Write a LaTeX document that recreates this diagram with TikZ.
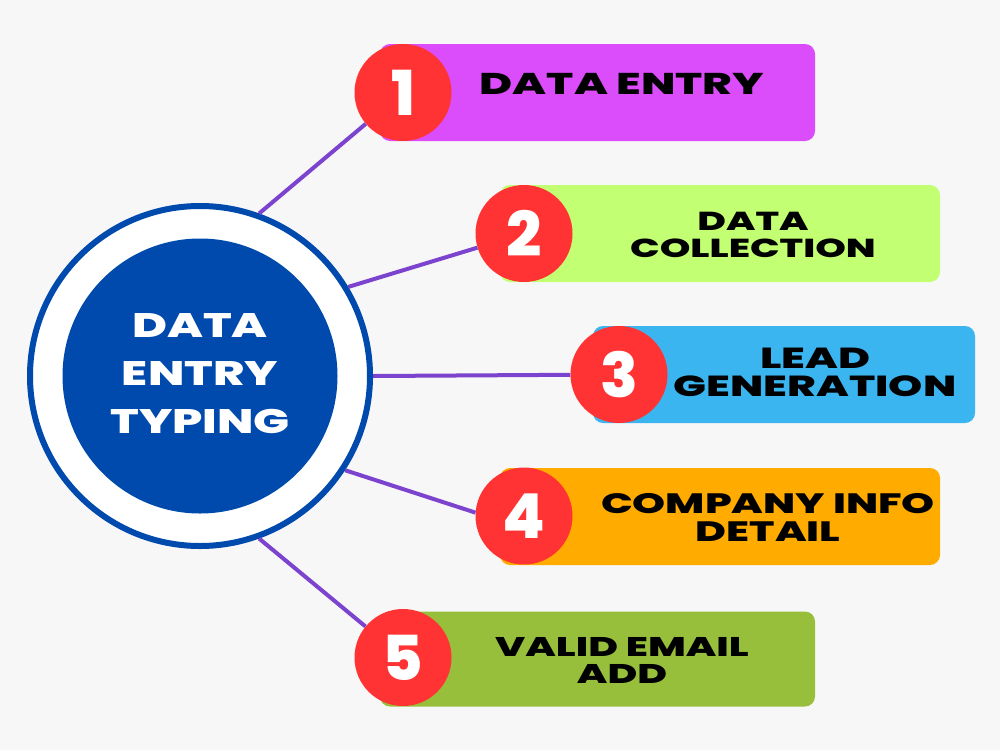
\documentclass[tikz,border=0pt]{standalone}
\usepackage{fontspec}
\setmainfont{Poppins}
\newfontfamily\widefont{Poppins ExtraBold}[FakeStretch=1.4]
\newfontfamily\barfont{Poppins ExtraBold}[FakeStretch=1.5]
\newfontfamily\numfont{Poppins ExtraBold}
\usepackage{tikz}
\definecolor{pagebg}{HTML}{F7F7F7}
\definecolor{navy}{HTML}{004AAD}
\definecolor{linkpurple}{HTML}{7C43CF}
\definecolor{numred}{HTML}{FF3333}
\definecolor{barone}{HTML}{DB4CFB}
\definecolor{bartwo}{HTML}{C2FF72}
\definecolor{barthree}{HTML}{3BB5F0}
\definecolor{barfour}{HTML}{FFAB00}
\definecolor{barfive}{HTML}{97BF3B}

\begin{document}
\begin{tikzpicture}[x=1pt, y=-1pt,
  bar/.style={rectangle, rounded corners=10pt, minimum height=97pt, inner sep=0pt},
  num/.style={circle, fill=numred, minimum size=97pt, inner sep=0pt, text=white, font=\numfont\fontsize{62}{62}\selectfont},
  lbl/.style={align=center, inner sep=0pt, font=\barfont\fontsize{29}{28}\selectfont},
  link/.style={draw=linkpurple, line width=4pt}]
\fill[pagebg] (0,0) rectangle (1000,750);
\node[circle, draw=navy, line width=6pt, fill=white, minimum size=340pt, inner sep=0pt] (hub) at (200,376) {};
\node[circle, fill=navy, minimum size=275pt, inner sep=0pt] (core) at (200,376) {};
\node[align=center, inner sep=0pt, text=white, font=\widefont\fontsize{34}{48}\selectfont] (title) at (200,374) {DATA\\ENTRY\\TYPING};
\node[bar, fill=barone, minimum width=435pt] (bar1) at (597.5,92.5) {};
\node[bar, fill=bartwo, minimum width=440pt] (bar2) at (720,233.5) {};
\node[bar, fill=barthree, minimum width=382pt] (bar3) at (784,374.5) {};
\node[bar, fill=barfour, minimum width=440pt] (bar4) at (720,516.5) {};
\node[bar, fill=barfive, minimum width=435pt, minimum height=95pt] (bar5) at (597.5,659) {};
\node[num] (num1) at (403,92.5) {1};
\node[num] (num2) at (524,233.5) {2};
\node[num] (num3) at (619,374.5) {3};
\node[num] (num4) at (524,516) {4};
\node[num] (num5) at (403,657.5) {5};
\node[lbl, font=\barfont\fontsize{30}{28}\selectfont] (lbl1) at (622,83.5) {DATA ENTRY};
\node[lbl, font=\barfont\fontsize{26}{27}\selectfont] (lbl2) at (753,234.5) {DATA\\COLLECTION};
\node[lbl] (lbl3) at (815,372) {LEAD\\GENERATION};
\node[lbl, font=\barfont\fontsize{28}{28}\selectfont] (lbl4) at (768,517) {COMPANY INFO\\DETAIL};
\node[lbl, font=\barfont\fontsize{27}{27}\selectfont] (lbl5) at (622,660) {VALID EMAIL\\ADD};
\draw[link] (hub.70) -- (num1);
\draw[link] (hub.31) -- (num2);
\draw[link] (hub.0) -- (num3);
\draw[link] (hub.-33) -- (num4.176);
\draw[link] (hub.-70) -- (num5);
\end{tikzpicture}
\end{document}
